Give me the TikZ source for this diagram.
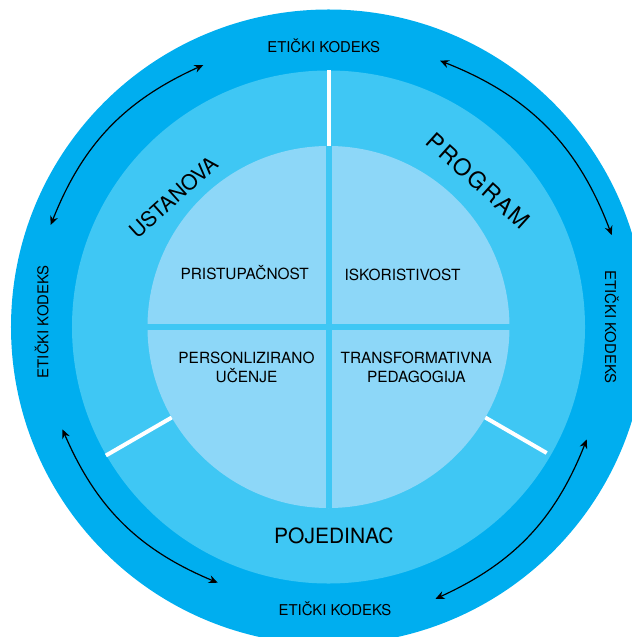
\documentclass[tikz,border=0pt]{standalone}
\usepackage{fontspec}
\setmainfont{TeX Gyre Heros}
\usetikzlibrary{arrows.meta}
\definecolor{ringout}{HTML}{00AEEF}
\definecolor{ringmid}{HTML}{3FC7F4}
\definecolor{ringin}{HTML}{8DD7F8}
\begin{document}
\begin{tikzpicture}[x=1bp,y=-1bp,
  lbl/.style={font=\fontsize{14.9bp}{18bp}\selectfont, inner sep=0pt, anchor=base},
  big/.style={font=\fontsize{21bp}{25bp}\selectfont, inner sep=0pt},
  quad/.style={font=\fontsize{15.4bp}{19bp}\selectfont, inner sep=0pt, align=center},
  divider/.style={white, line width=4bp},
  tip/.tip={Stealth[length=9bp,width=8bp,inset=3bp]},
  twoway/.style={tip-tip, line width=1.2bp, black}
]
\useasboundingbox (0,0) rectangle (632,637);
\clip (0,0) rectangle (632,637);
% rings
\fill[ringout] (328.5,327) circle[radius=317.5bp];
\fill[ringmid] (328.5,327) circle[radius=256.5bp];
\fill[ringin] (328.5,327) circle[radius=181bp];
% quadrant gaps
\fill[ringmid] (325.5,146) rectangle (331.5,508);
\fill[ringmid] (147,324) rectangle (510,330);
% white dividers
\coordinate (dt1) at (328.5,70);
\coordinate (dt2) at (328.5,146);
\coordinate (dl1) at (105.9,455.5);
\coordinate (dl2) at (171.7,417.5);
\coordinate (dr1) at (485.3,417.5);
\coordinate (dr2) at (546.7,453);
\draw[divider] (dt1) -- (dt2);
\draw[divider] (dl1) -- (dl2);
\draw[divider] (dr1) -- (dr2);
% outer labels
\node[lbl] (top) at (323.7,52.7) {ETIČKI KODEKS};
\node[lbl] (bot) at (335,615) {ETIČKI KODEKS};
\node[lbl, rotate=90] (left) at (48.3,321.7) {ETIČKI KODEKS};
\node[lbl, rotate=-90] (right) at (605,327) {ETIČKI KODEKS};
% middle labels
\node[big, rotate=42] (ust) at (173.4,197) {USTANOVA};
\node[big, font=\fontsize{23bp}{27bp}\selectfont\addfontfeature{LetterSpace=8}, rotate=-42] (prog) at (478.3,181) {PROGRAM};
\node[big, anchor=base] (poj) at (333.8,543.3) {POJEDINAC};
% inner labels
\node[quad, anchor=base] (q1) at (244.7,279.3) {PRISTUPAČNOST};
\node[quad, anchor=base] (q2) at (402.5,280.7) {ISKORISTIVOST};
\node[quad, anchor=north] (q3) at (246.5,351.5) {PERSONLIZIRANO\\UČENJE};
\node[quad, anchor=north] (q4) at (416.3,351.5) {TRANSFORMATIVNA\\PEDAGOGIJA};
% arrows
\coordinate (a1) at (50.7,225);
\coordinate (a2) at (203.3,65);
\coordinate (b1) at (440,60.7);
\coordinate (b2) at (611.7,235);
\coordinate (c1) at (62.5,429.4);
\coordinate (c2) at (217.7,582.7);
\coordinate (d1) at (586.7,439.5);
\coordinate (d2) at (435.5,598.8);
\draw[twoway] (a1) to[bend left=22] (a2);
\draw[twoway] (b1) to[bend left=24] (b2);
\draw[twoway] (c1) to[bend right=22] (c2);
\draw[twoway] (d1) to[bend left=22] (d2);
\end{tikzpicture}
\end{document}
